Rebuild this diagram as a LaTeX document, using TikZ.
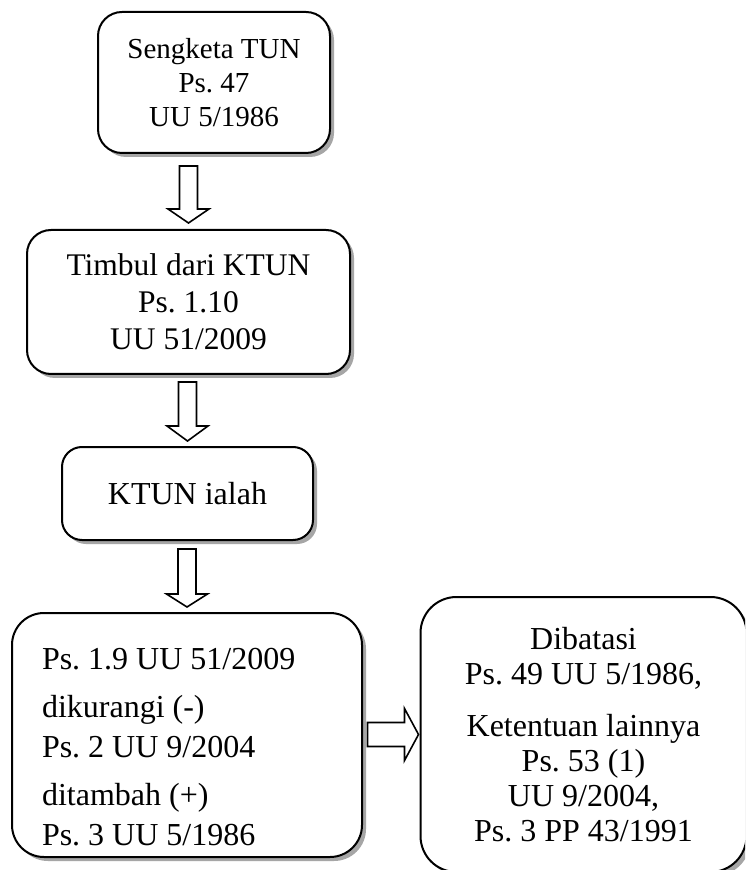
\documentclass[tikz,border=0pt]{standalone}
\usepackage{fontspec}
\setmainfont{Liberation Serif}
\usetikzlibrary{shadows}
\frenchspacing

\tikzset{
  lawbox/.style={draw, line width=1pt, fill=white, align=center,
    drop shadow={shadow xshift=2pt, shadow yshift=-2pt, fill=gray!70, opacity=1}},
  blockarrow/.style={draw, line width=0.8pt, fill=white, line join=miter}
}

\begin{document}
\begin{tikzpicture}[x=0.5pt,y=-0.5pt]
\clip (0,0) rectangle (745,870);
\fill[white] (0,0) rectangle (745,870);

% Chain of boxes, top to bottom
\node[lawbox, rounded corners=12pt, minimum width=116pt, minimum height=70.5pt,
      font=\fontsize{14.5}{17}\selectfont] (sengketa) at (214,82.5)
      {Sengketa TUN\\Ps. 47\\UU 5/1986};
\node[lawbox, rounded corners=12pt, minimum width=161.5pt, minimum height=72pt,
      font=\fontsize{15.75}{18.5}\selectfont] (timbul) at (188.5,302)
      {Timbul dari KTUN\\Ps. 1.10\\UU 51/2009};
\node[lawbox, rounded corners=10pt, minimum width=125.5pt, minimum height=46.5pt,
      font=\fontsize{16}{18.5}\selectfont] (ialah) at (187.5,493.5) {KTUN ialah};
\node[lawbox, rounded corners=16pt, align=left, text width=145pt, inner xsep=15pt,
      minimum height=122pt, text height=23pt, font=\fontsize{16}{20}\selectfont] (pasal) at (187,735)
      {\spaceskip=0pt\xspaceskip=0pt
       Ps. 1.9 UU 51/2009\\[4pt]
       dikurangi (-)\\
       Ps. 2 UU 9/2004\\[4pt]
       ditambah (+)\\
       Ps. 3 UU 5/1986};

% Right box
\node[lawbox, rounded corners=18pt, minimum width=163pt, minimum height=137.5pt,
      font=\fontsize{16}{17.5}\selectfont] (batas) at (583.5,734.5)
      {Dibatasi\\
       Ps. 49 UU 5/1986,\\[8.5pt]
       Ketentuan lainnya\\
       Ps. 53 (1)\\
       UU 9/2004,\\
       Ps. 3 PP 43/1991};

% Hollow arrows
\draw[blockarrow] ([yshift=3pt]timbul.north) -- ++(-20.5,-14) -- ++(11.5,0) -- ++(0,-43)
  -- ++(18,0) -- ++(0,43) -- ++(11.5,0) -- cycle;
\draw[blockarrow] ([yshift=2.5pt]ialah.north) -- ++(-20.5,-15) -- ++(11.5,0) -- ++(0,-44)
  -- ++(18,0) -- ++(0,44) -- ++(11.5,0) -- cycle;
\draw[blockarrow] ([yshift=2.5pt]pasal.north) -- ++(-20.5,-13) -- ++(11.5,0) -- ++(0,-45)
  -- ++(18,0) -- ++(0,45) -- ++(11.5,0) -- cycle;
\draw[blockarrow] ([xshift=-0.5pt]batas.west) -- ++(-14,-26) -- ++(0,14) -- ++(-37,0)
  -- ++(0,24) -- ++(37,0) -- ++(0,14) -- cycle;
\end{tikzpicture}
\end{document}
